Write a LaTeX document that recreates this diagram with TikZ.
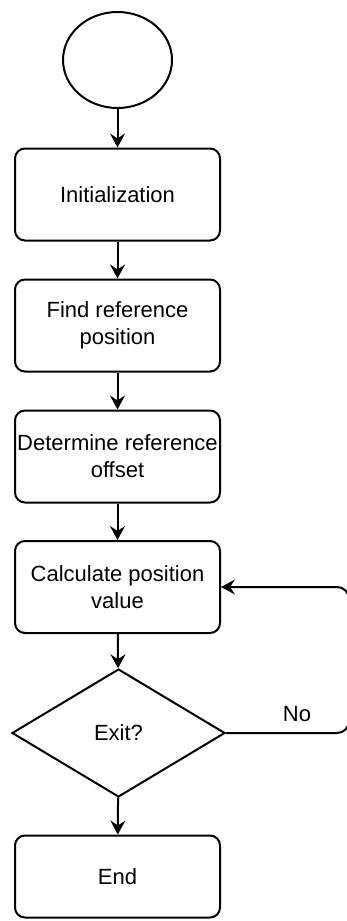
\documentclass[tikz,border=0pt]{standalone}
\usepackage{fontspec}
\setmainfont{Liberation Sans}
\usetikzlibrary{shapes.geometric,arrows.meta}
\begin{document}
\begin{tikzpicture}[x=0.5pt,y=-0.5pt, line width=1pt,
  txt/.style={font=\fontsize{11}{13.5}\selectfont},
  proc/.style={draw, rounded corners=5pt, minimum width=102.5pt, minimum height=46pt, align=center, inner sep=0pt, txt},
  arr/.style={-{Stealth[length=7pt,width=7.5pt,inset=2.5pt]}}]
\useasboundingbox (0,0) rectangle (347,921);
\node[draw, ellipse, minimum width=54.5pt, minimum height=48pt, inner sep=0pt] (start) at (117.5,60) {};
\node[proc] (init) at (117.5,194.5) {Initialization};
\node[proc] (find) at (117.5,325.5) {Find reference\\position};
\node[proc] (det) at (117.5,456.5) {Determine reference\\offset};
\node[proc] (calc) at (117.5,587) {Calculate position\\value};
\node[draw, diamond, aspect=1.66, minimum width=106.5pt, minimum height=64pt, inner sep=0pt, txt] (exit) at (118.5,733) {Exit?};
\node[proc, minimum height=41pt] (end) at (117.5,876.5) {End};
\coordinate (c1) at (349,733);
\coordinate (c2) at (349,587);
\node[txt] (no) at (297,714.5) {No};
\draw[arr] (start) -- (init);
\draw[arr] (init) -- (find);
\draw[arr] (find) -- (det);
\draw[arr] (det) -- (calc);
\draw[arr] (calc) -- (exit);
\draw[arr] (exit) -- (end);
\draw[arr, rounded corners=6pt] (exit.east) -- (c1) -- (c2) -- (calc.east);
\end{tikzpicture}
\end{document}
